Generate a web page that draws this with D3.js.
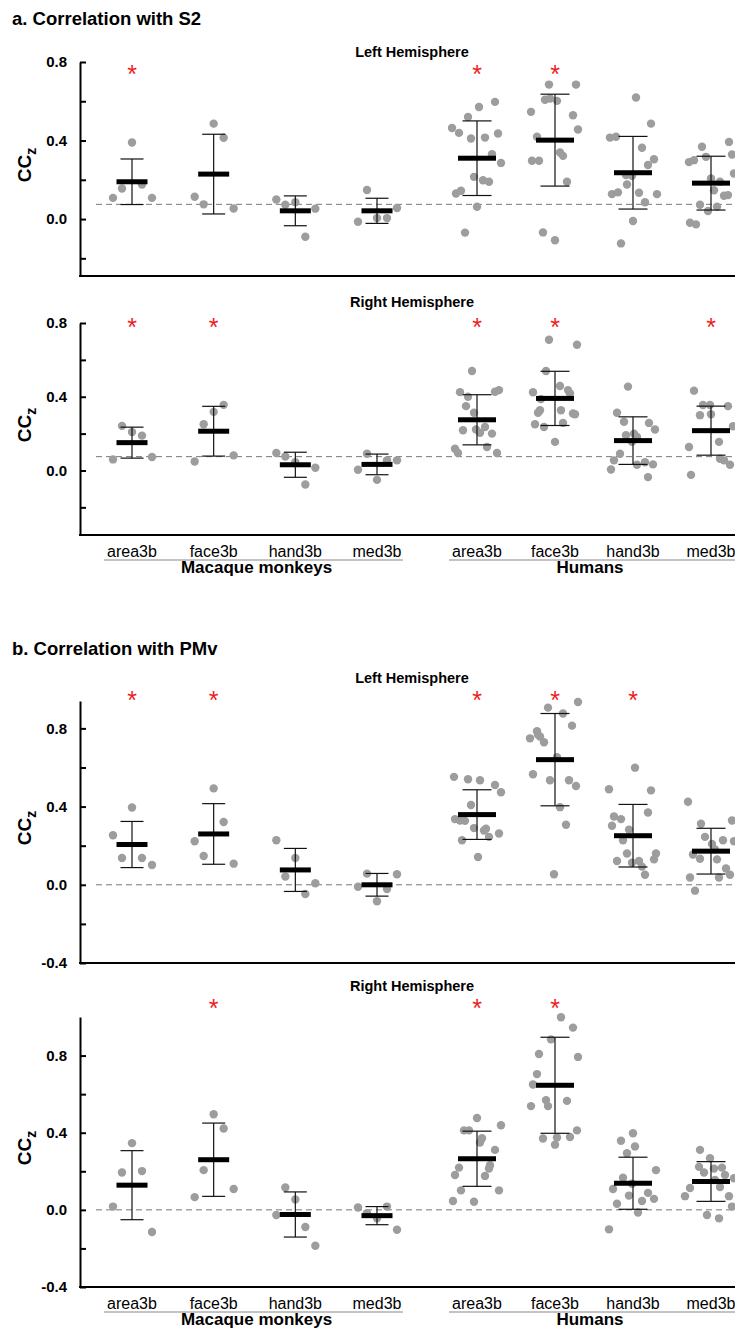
<!DOCTYPE html>
<html>
<head>
<meta charset="utf-8">
<script src="https://cdn.jsdelivr.net/npm/d3@7"></script>
<style>
  body { margin: 0; background: #fff; }
  svg { display: block; font-family: "Liberation Sans", Arial, sans-serif; }
</style>
</head>
<body>
<div id="chart"></div>
<script>
// categories and labels
let monkeyCats = ["area3b", "face3b", "hand3b", "med3b"];
let humanCats = ["area3b", "face3b", "hand3b", "med3b"];
let groupNames = ["Macaque monkeys", "Humans"];
let hemiNames = ["Left Hemisphere", "Right Hemisphere"];
let sectionTitles = ["a. Correlation with S2", "b. Correlation with PMv"];

// tick labels
let majorTicksA = [0.8, 0.4, 0.0];
let majorTicksB = [0.8, 0.4, 0.0, -0.4];
let minorTicks = [0.6, 0.2, -0.2];

// reference (dashed) levels
let refS2 = 0.075;
let refPMv = 0.0;

// jitter ranks (same order as the values)
let monkeyJitter = [-19, -10, 0, 10, 20];

// ---- a. S2, left hemisphere
let s2LeftMonkey = [
  [0.108, 0.156, 0.39, 0.176, 0.108],
  [0.114, 0.075, 0.486, 0.414, 0.054],
  [0.1, 0.073, 0.086, -0.09, 0.053],
  [-0.014, 0.148, 0.005, 0.005, 0.056]
];
let s2LeftHuman = [
  [0.464, 0.439, 0.52, 0.571, 0.597, 0.41, 0.415, 0.436, 0.33, 0.286, 0.215, 0.198, 0.19, 0.13, 0.144, 0.063, -0.069],
  [0.685, 0.685, 0.608, 0.614, 0.602, 0.546, 0.529, 0.456, 0.419, 0.297, 0.297, 0.339, 0.322, 0.19, -0.068, -0.108],
  [0.619, 0.486, 0.415, 0.419, 0.363, 0.305, 0.275, 0.224, 0.176, 0.22, 0.127, 0.136, 0.134, 0.086, 0.127, -0.01, -0.124],
  [0.368, 0.393, 0.329, 0.29, 0.3, 0.317, 0.207, 0.19, 0.147, 0.119, 0.122, 0.232, 0.073, 0.041, 0.063, -0.019, -0.027]
];
let s2LeftJitter = [
  [-25, -18, -9, 2, 18, -6, 8, 21, 15, 24, -3, 6, 12, -21, -16, 0, -12],
  [-6, 21, -10, -5, 2, -24, 18, 23, -18, -23, -16, 5, 8, 12, -12, 0],
  [3, 18, -23, -17, 9, 21, 15, -7, -6, -1, -21, -15, 6, 12, 24, 0, -12],
  [-9, 18, 21, -22, -17, -5, 0, 9, 3, 13, 17, 23, -11, -3, 6, -21, -15]
];
let s2LeftMean = [0.19, 0.229, 0.042, 0.042, 0.31, 0.402, 0.236, 0.183];
let s2LeftSD = [0.116, 0.203, 0.076, 0.064, 0.19, 0.234, 0.185, 0.137];
let s2LeftSig = [1, 0, 0, 0, 1, 1, 0, 0];

// ---- a. S2, right hemisphere
let s2RightMonkey = [
  [0.06, 0.242, 0.209, 0.189, 0.073],
  [0.049, 0.251, 0.318, 0.356, 0.082],
  [0.095, 0.076, 0.045, -0.076, 0.015],
  [0.004, 0.091, -0.051, 0.055, 0.055]
];
let s2RightHuman = [
  [0.54, 0.425, 0.4, 0.427, 0.436, 0.349, 0.313, 0.218, 0.222, 0.236, 0.205, 0.2, 0.127, 0.118, 0.095, 0.095],
  [0.709, 0.682, 0.54, 0.458, 0.424, 0.387, 0.436, 0.418, 0.327, 0.313, 0.327, 0.309, 0.305, 0.251, 0.236, 0.258, 0.155],
  [0.455, 0.313, 0.264, 0.258, 0.222, 0.191, 0.2, 0.182, 0.091, 0.055, 0.005, 0.031, 0.045, 0.033, -0.036, 0.155],
  [0.433, 0.355, 0.355, 0.349, 0.3, 0.305, 0.24, 0.155, 0.127, 0.064, 0.055, 0.031, -0.024]
];
let s2RightJitter = [
  [-5, -17, -9, 18, 22, -11, -3, -14, -1, 8, 3, 15, 10, -22, -19, 20],
  [-6, 22, -9, 5, -22, -14, 13, 15, -15, -17, 6, 18, 20, -20, -11, 8, 0],
  [-5, -16, -9, 16, 22, -7, 1, 4, -13, -19, -22, 4, 12, 20, 15, -1],
  [-17, -8, -1, 17, -11, 0, 22, 8, -22, 9, 13, 19, -20]
];
let s2RightMean = [0.151, 0.213, 0.031, 0.033, 0.275, 0.391, 0.162, 0.216];
let s2RightSD = [0.084, 0.135, 0.068, 0.056, 0.136, 0.147, 0.129, 0.133];
let s2RightSig = [1, 1, 0, 0, 1, 1, 0, 1];

// ---- b. PMv, left hemisphere
let pmvLeftMonkey = [
  [0.253, 0.137, 0.395, 0.137, 0.101],
  [0.223, 0.147, 0.493, 0.321, 0.108],
  [0.228, 0.042, 0.137, -0.047, 0.008],
  [-0.01, 0.057, -0.084, -0.022, 0.054]
];
let pmvLeftHuman = [
  [0.552, 0.54, 0.535, 0.51, 0.473, 0.408, 0.336, 0.329, 0.327, 0.29, 0.278, 0.287, 0.262, 0.228, 0.245, 0.142],
  [0.906, 0.876, 0.935, 0.814, 0.785, 0.758, 0.749, 0.729, 0.653, 0.565, 0.535, 0.535, 0.505, 0.397, 0.307, 0.054, 0.768],
  [0.599, 0.489, 0.483, 0.37, 0.349, 0.336, 0.302, 0.282, 0.228, 0.16, 0.16, 0.13, 0.122, 0.122, 0.093, 0.051, 0.113],
  [0.425, 0.312, 0.329, 0.245, 0.228, 0.223, 0.209, 0.155, 0.133, 0.13, 0.181, 0.083, 0.051, 0.037, 0.037, -0.03]
];
let pmvLeftJitter = [
  [-23, -9, 3, 18, 24, -6, -22, -17, -12, -3, 7, 9, 22, -15, 12, 1],
  [-7, 8, 23, 17, -18, -15, -25, -11, 2, -22, -5, 14, 21, 5, 11, -1, -17],
  [2, -24, 18, 15, -19, -12, -21, -4, -10, -6, 23, 21, -16, 6, 9, 12, -1],
  [-23, -10, 21, -6, 12, 23, 1, -18, -11, 6, 4, 15, 19, -21, 8, -16]
];
let pmvLeftMean = [0.206, 0.26, 0.076, 0.0, 0.359, 0.64, 0.251, 0.172];
let pmvLeftSD = [0.118, 0.155, 0.11, 0.058, 0.127, 0.236, 0.16, 0.117];
let pmvLeftSig = [1, 1, 0, 0, 1, 1, 1, 0];

// ---- b. PMv, right hemisphere
let pmvRightMonkey = [
  [0.017, 0.194, 0.346, 0.201, -0.115],
  [0.066, 0.206, 0.496, 0.422, 0.108],
  [-0.027, 0.116, 0.054, -0.089, -0.186],
  [0.012, -0.017, -0.044, 0.017, -0.103]
];
let pmvRightHuman = [
  [0.476, 0.412, 0.412, 0.439, 0.371, 0.349, 0.311, 0.231, 0.219, 0.181, 0.176, 0.101, 0.101, 0.046, 0.042, 0.214],
  [0.999, 0.945, 0.884, 0.808, 0.793, 0.704, 0.65, 0.569, 0.538, 0.565, 0.538, 0.412, 0.37, 0.375, 0.378, 0.338],
  [0.397, 0.358, 0.329, 0.294, 0.206, 0.167, 0.108, 0.074, 0.088, 0.057, 0.032, 0.046, -0.014, -0.101, 0.135],
  [0.311, 0.268, 0.223, 0.214, 0.219, 0.194, 0.181, 0.164, 0.113, 0.071, 0.071, 0.118, 0.017, -0.027, -0.044, 0.155]
];
let pmvRightJitter = [
  [0, -13, -8, 24, 5, 3, 18, 13, -18, -22, 8, -16, 22, -24, -3, 12],
  [6, 18, -4, -16, 23, -18, -22, -9, -7, 12, -24, 22, -12, 2, 15, 0],
  [0, -12, 2, -6, 23, -10, -20, -4, 15, 21, -16, 9, 5, -24, -1],
  [-11, -1, -12, 3, 11, -7, 14, 23, -21, -26, 18, 9, 21, -4, 8, 4]
];
let pmvRightMean = [0.128, 0.26, -0.024, -0.03, 0.265, 0.646, 0.138, 0.147];
let pmvRightSD = [0.179, 0.19, 0.117, 0.047, 0.143, 0.249, 0.135, 0.103];
let pmvRightSig = [0, 1, 0, 0, 1, 1, 0, 0];

//
// layout
let width = 735, height = 1330;
let axisX = 80;
let dotColor = "#9d9d9d";
let sigColor = "#ee1c25";

// panel layout: pixel extent of each y axis and where title/asterisks sit
let panels = [
  { section: 0, hemi: 0, top: 62, bottom: 276, domain: [-0.29, 0.8], major: majorTicksA, ref: refS2,
    monkey: s2LeftMonkey, human: s2LeftHuman, jit: s2LeftJitter, mean: s2LeftMean, sd: s2LeftSD, sig: s2LeftSig,
    titleDy: -5, sigDy: 7, xLabels: false },
  { section: 0, hemi: 1, top: 323, bottom: 535, domain: [-0.35, 0.8], major: majorTicksA, ref: refS2,
    monkey: s2RightMonkey, human: s2RightHuman, jit: s2RightJitter, mean: s2RightMean, sd: s2RightSD, sig: s2RightSig,
    titleDy: -16, sigDy: -1, xLabels: true },
  { section: 1, hemi: 0, top: 701, bottom: 963, domain: [-0.4, 0.94], major: majorTicksB, ref: refPMv,
    monkey: pmvLeftMonkey, human: pmvLeftHuman, jit: pmvLeftJitter, mean: pmvLeftMean, sd: pmvLeftSD, sig: pmvLeftSig,
    titleDy: -18, sigDy: -6, xLabels: false },
  { section: 1, hemi: 1, top: 1017, bottom: 1287, domain: [-0.4, 1.0], major: majorTicksB, ref: refPMv,
    monkey: pmvRightMonkey, human: pmvRightHuman, jit: pmvRightJitter, mean: pmvRightMean, sd: pmvRightSD, sig: pmvRightSig,
    titleDy: -26, sigDy: -14, xLabels: true }
];
let sectionTitleY = [25, 655];

let svg = d3
  .select("#chart")
  .append("svg")
  .attr("width", width)
  .attr("height", height);

// x scales: one point scale per group
let xMonkey = d3.scalePoint().domain(monkeyCats).range([132, 377]);
let xHuman = d3.scalePoint().domain(humanCats).range([477, 711]);
let jitterScale = d3.scaleLinear().domain([-25, 25]).range([-25, 25]);

function centerX(i) {
  return i < 4 ? xMonkey(monkeyCats[i]) : xHuman(humanCats[i - 4]);
}

// section titles
sectionTitles.forEach((t, i) => {
  svg.append("text")
    .attr("x", 12)
    .attr("y", sectionTitleY[i])
    .attr("font-size", "18.5px")
    .attr("font-weight", "bold")
    .text(t);
});

panels.forEach((p) => {
  let y = d3.scaleLinear().domain(p.domain).range([p.bottom, p.top]);
  let g = svg.append("g");

  // dashed reference line
  g.append("line")
    .attr("x1", 96)
    .attr("x2", width)
    .attr("y1", y(p.ref))
    .attr("y2", y(p.ref))
    .attr("stroke", "#777")
    .attr("stroke-width", 1)
    .attr("stroke-dasharray", "6,4");

  // build a flat list of dots
  let dots = [];
  p.monkey.forEach((vals, ci) => {
    vals.forEach((v, k) => dots.push({ cat: ci, v: v, j: monkeyJitter[k] }));
  });
  p.human.forEach((vals, ci) => {
    vals.forEach((v, k) => dots.push({ cat: ci + 4, v: v, j: p.jit[ci][k] }));
  });

  g.append("g")
    .selectAll("circle")
    .data(dots)
    .enter()
    .append("circle")
    .attr("cx", (d) => centerX(d.cat) + jitterScale(d.j))
    .attr("cy", (d) => y(d.v))
    .attr("r", 4.2)
    .attr("fill", dotColor);

  // error bars (mean +- SD)
  let stats = p.mean.map((m, i) => ({ i: i, m: m, sd: p.sd[i], sig: p.sig[i] }));
  let eb = g.append("g")
    .selectAll(".eb")
    .data(stats)
    .enter()
    .append("g")
    .attr("class", "eb")
    .attr("stroke", "#111")
    .attr("stroke-width", 1.2);

  eb.append("line")
    .attr("x1", (d) => centerX(d.i))
    .attr("x2", (d) => centerX(d.i))
    .attr("y1", (d) => y(d.m + d.sd))
    .attr("y2", (d) => y(d.m - d.sd));
  [1, -1].forEach((s) => {
    eb.append("line")
      .attr("x1", (d) => centerX(d.i) - (d.i < 4 ? 11.5 : 14.5))
      .attr("x2", (d) => centerX(d.i) + (d.i < 4 ? 11.5 : 14.5))
      .attr("y1", (d) => y(d.m + s * d.sd))
      .attr("y2", (d) => y(d.m + s * d.sd));
  });

  // mean bars
  g.append("g")
    .selectAll("rect")
    .data(stats)
    .enter()
    .append("rect")
    .attr("x", (d) => centerX(d.i) - (d.i < 4 ? 15.5 : 19))
    .attr("width", (d) => (d.i < 4 ? 31 : 38))
    .attr("y", (d) => y(d.m) - 2.5)
    .attr("height", 5)
    .attr("fill", "#000");

  // significance asterisks
  g.append("g")
    .selectAll("text")
    .data(stats.filter((d) => d.sig))
    .enter()
    .append("text")
    .attr("x", (d) => centerX(d.i))
    .attr("y", p.top + p.sigDy + 14)
    .attr("text-anchor", "middle")
    .attr("font-size", "25px")
    .attr("fill", sigColor)
    .text("*");

  // hemisphere title
  g.append("text")
    .attr("x", 412)
    .attr("y", p.top + p.titleDy)
    .attr("text-anchor", "middle")
    .attr("font-size", "14.5px")
    .attr("font-weight", "bold")
    .text(hemiNames[p.hemi]);

  // y axis, ticks pointing inward
  let yAxis = d3
    .axisLeft(y)
    .tickValues(p.major.concat(minorTicks))
    .tickSizeInner(-6)
    .tickSizeOuter(0)
    .tickPadding(13)
    .tickFormat((d) => (p.major.includes(d) ? d.toFixed(1) : ""));

  let ya = g.append("g")
    .attr("transform", `translate(${axisX},0)`)
    .call(yAxis);
  ya.select(".domain").attr("stroke", "#000").attr("stroke-width", 2);
  ya.selectAll(".tick line").attr("stroke", "#000").attr("stroke-width", 2);
  ya.selectAll(".tick text")
    .attr("font-family", "'Liberation Sans', Arial, sans-serif")
    .attr("font-size", "15px")
    .attr("font-weight", "bold")
    .attr("fill", "#000");

  // x axis line
  g.append("line")
    .attr("x1", axisX - 1)
    .attr("x2", width)
    .attr("y1", p.bottom)
    .attr("y2", p.bottom)
    .attr("stroke", "#000")
    .attr("stroke-width", 2);

  // y label CCz
  let mid = (p.top + p.bottom) / 2;
  let yl = g.append("text")
    .attr("transform", `translate(31,${mid - 4}) rotate(-90)`)
    .attr("text-anchor", "middle")
    .attr("font-weight", "bold")
    .attr("font-size", "19px");
  yl.append("tspan").text("CC");
  yl.append("tspan").attr("font-size", "14px").attr("dy", 5).text("z");

  // category labels under the lower panels
  if (p.xLabels) {
    let groups = [
      { name: groupNames[0], scale: xMonkey, cats: monkeyCats },
      { name: groupNames[1], scale: xHuman, cats: humanCats }
    ];
    groups.forEach((gr) => {
      gr.cats.forEach((c) => {
        g.append("text")
          .attr("x", gr.scale(c))
          .attr("y", p.bottom + 21.5)
          .attr("text-anchor", "middle")
          .attr("font-size", "16px")
          .text(c);
      });
      let r = gr.scale.range();
      g.append("line")
        .attr("x1", r[0] - 28)
        .attr("x2", r[1] + 26)
        .attr("y1", p.bottom + 25)
        .attr("y2", p.bottom + 25)
        .attr("stroke", "#888")
        .attr("stroke-width", 1);
      g.append("text")
        .attr("x", (r[0] + r[1]) / 2 + (gr.name === "Humans" ? -4 : 2))
        .attr("y", p.bottom + 38)
        .attr("text-anchor", "middle")
        .attr("font-size", "17px")
        .attr("font-weight", "bold")
        .text(gr.name);
    });
  }
});
</script>
</body>
</html>
